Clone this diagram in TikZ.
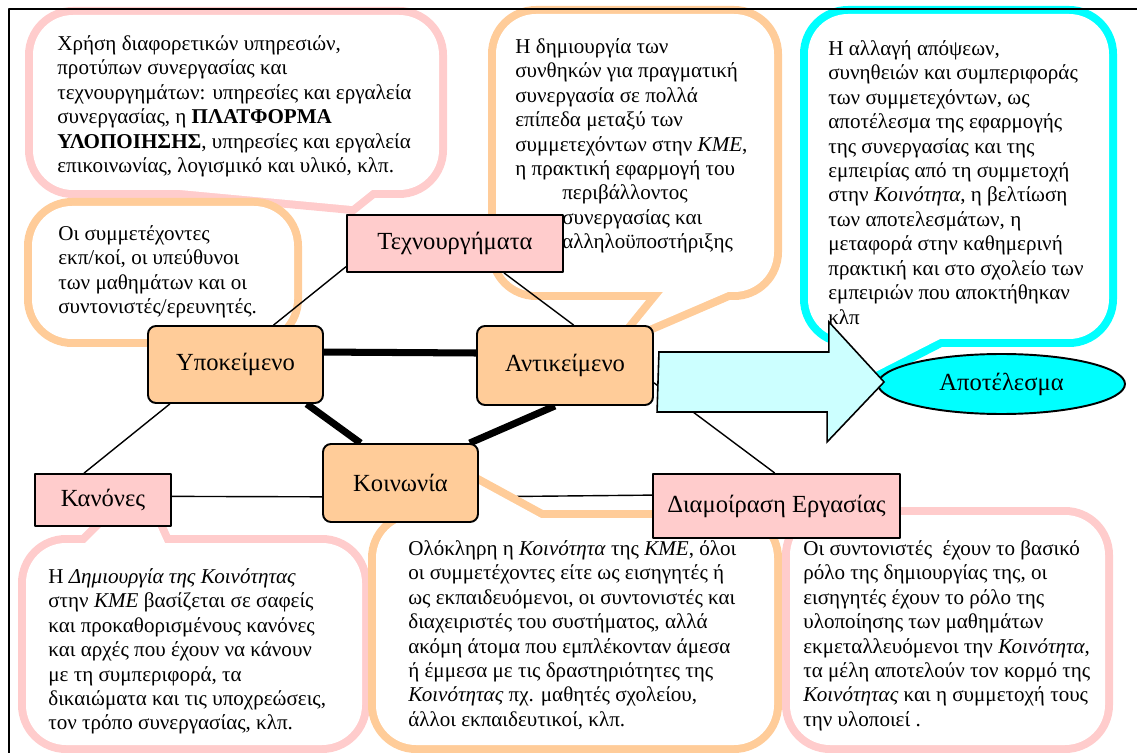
\documentclass[tikz,border=0pt]{standalone}
\usepackage{fontspec}
\setmainfont{Liberation Serif}
\usetikzlibrary{shapes.geometric,calc}
\definecolor{pinkc}{HTML}{FFCCCC}
\definecolor{orangec}{HTML}{FFCC99}
\definecolor{cyanc}{HTML}{00FFFF}
\definecolor{lightcyan}{HTML}{CCFFFF}
\pgfdeclarelayer{lines}
\pgfdeclarelayer{callouts}
\pgfdeclarelayer{links}
\pgfsetlayers{lines,callouts,links,main}
\begin{document}
\begin{tikzpicture}[x=0.02cm, y=-0.02cm, line join=round, line cap=round,
  lbl/.style={font=\fontsize{14}{16}\selectfont, draw, line width=1.1pt, inner sep=0pt},
  pinkbox/.style={lbl, fill=pinkc},
  orangebox/.style={lbl, fill=orangec, rounded corners=0.16cm},
  link/.style={line width=0.8pt},
  biglink/.style={line width=4pt, line cap=butt},
  rim/.style={line width=0.32cm, rounded corners=0.8cm},
  note/.style={font=\fontsize{12}{13.9}\selectfont, align=left, anchor=north west, inner sep=0pt},
  bigarrow/.style={draw, fill=lightcyan, line width=0.9pt, line join=miter}]
\useasboundingbox (0,0) rectangle (1137,753);
\draw[line width=1.1pt] (1137,9) -- (9,9) -- (9,753);

\node[pinkbox, minimum width=4.32cm, minimum height=1.14cm] (tech) at (455,243.5) {Τεχνουργήματα};
\node[orangebox, minimum width=3.5cm, minimum height=1.54cm] (subj) at (235.5,364.5) {Υποκείμενο};
\node[orangebox, minimum width=3.52cm, minimum height=1.58cm] (obj) at (565,365.5) {Αντικείμενο};
\node[orangebox, minimum width=3.1cm, minimum height=1.56cm] (comm) at (400.5,483) {Κοινωνία};
\node[pinkbox, minimum width=2.72cm, minimum height=1.04cm] (rules) at (103,500) {Κανόνες};
\node[pinkbox, minimum width=4.94cm, minimum height=1.28cm] (labour) at (776.5,506) {Διαμοίραση Εργασίας};
\node[lbl, ellipse, fill=cyanc, minimum width=4.94cm, minimum height=1.2cm] (outcome) at (1001.5,384) {Αποτέλεσμα};

\begin{pgfonlayer}{lines}
\draw[link] (comm.-10) -- (labour.175);
\end{pgfonlayer}

\begin{pgfonlayer}{callouts}
\foreach \c/\xa/\ya/\xb/\yb/\ta/\tb/\tc in {
  pinkc/33/15/439/190/{180,190}/{352,206}/{372,190},
  orangec/32/206/294/339/{200,339}/{230,375}/{260,339},
  orangec/496/14/774/292/{663,292}/{628,335}/{728,292},
  cyanc/808/14/1109/339/{846,339}/{852,384}/{940,339},
  pinkc/26/543/362/745/{85,543}/{140,488}/{165,543},
  orangec/376/518/774/745/{430,518}/{440,463}/{541,518},
  pinkc/790/515/1105/745/{820,515}/{830,500}/{860,515}}
{
  \draw[rim, draw=\c] (\xa,\ya) rectangle (\xb,\yb);
  \draw[rim, draw=\c, sharp corners] (\ta) -- (\tb) -- (\tc);
  \fill[white, rounded corners=0.8cm] (\xa,\ya) rectangle (\xb,\yb);
  \fill[white] (\ta) -- (\tb) -- (\tc) -- cycle;
}
\node[note] (technote) at (57,33) {\strut Χρήση διαφορετικών υπηρεσιών,\\
  προτύπων συνεργασίας και\\
  τεχνουργημάτων: υπηρεσίες και εργαλεία\\
  συνεργασίας, η \textbf{ΠΛΑΤΦΟΡΜΑ}\\
  \textbf{ΥΛΟΠΟΙΗΣΗΣ}, υπηρεσίες και εργαλεία\\
  επικοινωνίας, λογισμικό και υλικό, κλπ.};
\node[note] (subjnote) at (58,223) {\strut Οι συμμετέχοντες\\
  εκπ/κοί, οι υπεύθυνοι\\
  των μαθημάτων και οι\\
  συντονιστές/ερευνητές.};
\node[note] (objnote) at (515,36) {\strut Η δημιουργία των\\
  συνθηκών για πραγματική\\
  συνεργασία σε πολλά\\
  επίπεδα μεταξύ των\\
  συμμετεχόντων στην \textit{ΚΜΕ},\\
  η πρακτική εφαρμογή του\\
  \hspace*{0.94cm}περιβάλλοντος\\
  \hspace*{0.94cm}συνεργασίας και\\
  \hspace*{0.94cm}αλληλοϋποστήριξης};
\node[note] (outnote) at (828,38) {\strut Η αλλαγή απόψεων,\\
  συνηθειών και συμπεριφοράς\\
  των συμμετεχόντων, ως\\
  αποτέλεσμα της εφαρμογής\\
  της συνεργασίας και της\\
  εμπειρίας από τη συμμετοχή\\
  στην \textit{Κοινότητα}, η βελτίωση\\
  των αποτελεσμάτων, η\\
  μεταφορά στην καθημερινή\\
  πρακτική και στο σχολείο των\\
  εμπειριών που αποκτήθηκαν\\
  κλπ};
\node[note] (rulesnote) at (48,566) {\strut Η \textit{Δημιουργία της Κοινότητας}\\
  στην \textit{ΚΜΕ} βασίζεται σε σαφείς\\
  και προκαθορισμένους κανόνες\\
  και αρχές που έχουν να κάνουν\\
  με τη συμπεριφορά, τα\\
  δικαιώματα και τις υποχρεώσεις,\\
  τον τρόπο συνεργασίας, κλπ.};
\node[note] (commnote) at (408,538) {\strut Ολόκληρη η \textit{Κοινότητα} της \textit{ΚΜΕ}, όλοι\\
  οι συμμετέχοντες είτε ως εισηγητές ή\\
  ως εκπαιδευόμενοι, οι συντονιστές και\\
  διαχειριστές του συστήματος, αλλά\\
  ακόμη άτομα που εμπλέκονταν άμεσα\\
  ή έμμεσα με τις δραστηριότητες της\\
  \textit{Κοινότητας} πχ. μαθητές σχολείου,\\
  άλλοι εκπαιδευτικοί, κλπ.};
\node[note] (labournote) at (803,538) {\strut Οι συντονιστές~ έχουν το βασικό\\
  ρόλο της δημιουργίας της, οι\\
  εισηγητές έχουν το ρόλο της\\
  υλοποίησης των μαθημάτων\\
  εκμεταλλευόμενοι την \textit{Κοινότητα},\\
  τα μέλη αποτελούν τον κορμό της\\
  \textit{Κοινότητας} και η συμμετοχή τους\\
  την υλοποιεί .};
\end{pgfonlayer}

\begin{pgfonlayer}{links}
\draw[biglink] (subj.8) -- (obj.172);
\draw[biglink] (subj.-29) -- (comm.135);
\draw[biglink] (obj.256) -- (comm.30);
\draw[link] (tech.192) -- (subj.46);
\draw[link] (tech.-31) -- (obj.78);
\draw[link] (subj.211) -- (rules.125);
\draw[link] (rules.3) -- (comm.190);
\draw[link] (obj.-11) -- (labour.93);
\end{pgfonlayer}

\draw[bigarrow] ($(obj.east)+(5,-13.5)$) -- ++(170,0) -- ++(0,-30) -- ($(outcome.west)+(7,-2)$)
  -- ++(-57,60) -- ++(0,-30) -- ++(-170,0) -- cycle;
\end{tikzpicture}
\end{document}
